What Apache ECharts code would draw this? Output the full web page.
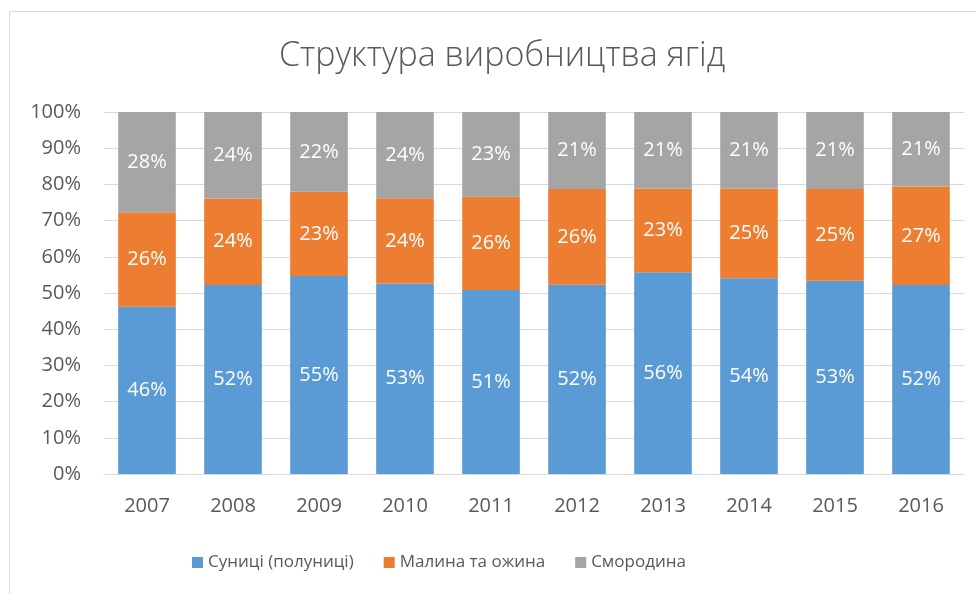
<!DOCTYPE html>
<html><head><meta charset="utf-8">
<script src="https://cdn.jsdelivr.net/npm/echarts@6/dist/echarts.min.js"></script>
<style>html,body{margin:0;padding:0;background:#fff}#c{width:976px;height:594px}</style>
</head><body><div id="c"></div>
<script>
const years = ['2007','2008','2009','2010','2011','2012','2013','2014','2015','2016'];
const strawberry = [46.2, 52.2, 54.7, 52.6, 50.8, 52.3, 55.7, 54.1, 53.4, 52.2];
const raspberry  = [26.1, 23.9, 23.3, 23.6, 25.8, 26.4, 23.2, 24.8, 25.3, 27.2];
const currant    = [27.7, 23.9, 22.0, 23.8, 23.4, 21.3, 21.1, 21.1, 21.3, 20.6];
const seriesNames = ['Суниці (полуниці)', 'Малина та ожина', 'Смородина'];
const yTicks = [0,10,20,30,40,50,60,70,80,90,100];

const font = '"Open Sans", "Noto Sans", sans-serif';
const colors = ['#5B9BD5', '#ED7D31', '#A5A5A5'];
const chart = echarts.init(document.getElementById('c'));
const mk = (name, data, i) => ({
  name, type: 'bar', stack: 'total', data,
  barCategoryGap: '33%',
  itemStyle: { color: colors[i] },
  label: { show: true, position: 'inside', color: '#fff', fontSize: 20, fontFamily: font,
    formatter: p => Math.round(p.value) + '%' },
  emphasis: { disabled: true }
});
chart.setOption({
  animation: false,
  graphic: [{ type: 'rect', shape: { x: 9.5, y: 11.5, width: 980, height: 600 },
    style: { fill: 'none', stroke: '#d9d9d9', lineWidth: 1 }, silent: true }],
  title: { text: 'Структура виробництва ягід', left: 274, top: 34,
    textStyle: { fontFamily: font, fontWeight: 300, fontSize: 34, color: '#595959' } },
  legend: { bottom: 18, left: 187, itemWidth: 11, itemHeight: 11, itemGap: 30,
    icon: 'rect', textStyle: { fontFamily: font, fontSize: 17, color: '#595959' },
    data: seriesNames },
  grid: { left: 104, right: 12, top: 112, bottom: 120 },
  xAxis: { type: 'category', data: years,
    axisLine: { lineStyle: { color: '#d9d9d9' } }, axisTick: { show: false },
    axisLabel: { fontFamily: font, fontSize: 20, color: '#595959', margin: 22 } },
  yAxis: { type: 'value', min: 0, max: 100, interval: 10,
    axisLine: { show: false }, axisTick: { show: false },
    splitLine: { lineStyle: { color: '#d9d9d9', width: 1 } },
    axisLabel: { fontFamily: font, fontSize: 20, color: '#595959', margin: 23,
      formatter: v => yTicks.includes(v) ? v + '%' : '' } },
  series: [mk(seriesNames[0], strawberry, 0), mk(seriesNames[1], raspberry, 1), mk(seriesNames[2], currant, 2)]
});
</script></body></html>
